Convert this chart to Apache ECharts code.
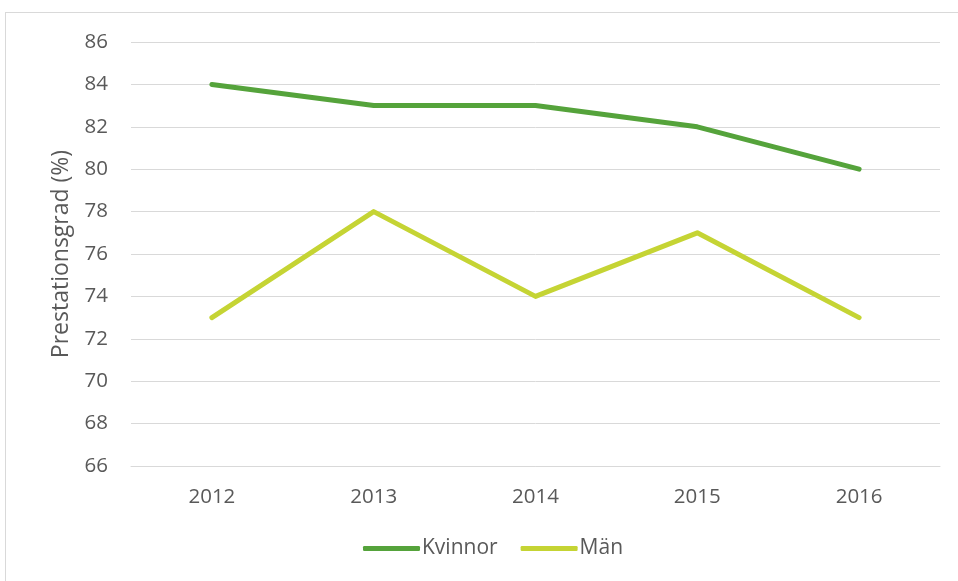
<!DOCTYPE html>
<html>
<head>
<meta charset="utf-8">
<script src="https://cdn.jsdelivr.net/npm/echarts@6/dist/echarts.min.js"></script>
<style>
html,body{margin:0;padding:0;background:#fff;}
#frame{position:absolute;left:5px;top:12px;width:960px;height:580px;border:1px solid #d9d9d9;box-sizing:border-box;}
#chart{position:absolute;left:0;top:0;width:958px;height:581px;}
</style>
</head>
<body>
<div id="frame"></div>
<div id="chart"></div>
<script>
const categories = ['2012', '2013', '2014', '2015', '2016'];
const kvinnor = [84, 83, 83, 82, 80];
const man = [73, 78, 74, 77, 73];
const seriesNames = ['Kvinnor', 'Män'];
const yAxisTitle = 'Prestationsgrad (%)';

const font = '"Open Sans", sans-serif';
const chart = echarts.init(document.getElementById('chart'), null, {renderer: 'canvas'});
chart.setOption({
  animation: false,
  grid: {left: 131, right: 18, top: 42, bottom: 115, containLabel: false},
  legend: {
    bottom: 17, left: 358,
    itemWidth: 57, itemHeight: 5, itemGap: 23,
    icon: 'roundRect',
    textStyle: {color: '#595959', fontSize: 21, fontFamily: font, padding: [0, 0, 0, -3]},
    data: seriesNames
  },
  xAxis: {
    type: 'category',
    data: categories,
    boundaryGap: true,
    axisLine: {show: true, lineStyle: {color: '#d9d9d9', width: 1}},
    axisTick: {show: false},
    axisLabel: {color: '#595959', fontSize: 20.5, fontFamily: font, margin: 21}
  },
  yAxis: {
    type: 'value',
    min: 66, max: 86, interval: 2,
    name: yAxisTitle,
    nameLocation: 'middle',
    nameGap: 58,
    nameTextStyle: {color: '#595959', fontSize: 23, fontFamily: font},
    axisLine: {show: false},
    axisTick: {show: false},
    splitLine: {lineStyle: {color: '#d9d9d9', width: 1}},
    axisLabel: {color: '#595959', fontSize: 20.5, fontFamily: font, margin: 23}
  },
  series: [
    {name: seriesNames[0], type: 'line', data: kvinnor, symbol: 'none',
     lineStyle: {color: '#55a33b', width: 5, cap: 'round', join: 'round'}, itemStyle: {color: '#55a33b'}},
    {name: seriesNames[1], type: 'line', data: man, symbol: 'none',
     lineStyle: {color: '#c5d434', width: 5, cap: 'round', join: 'round'}, itemStyle: {color: '#c5d434'}}
  ]
});
</script>
</body>
</html>
